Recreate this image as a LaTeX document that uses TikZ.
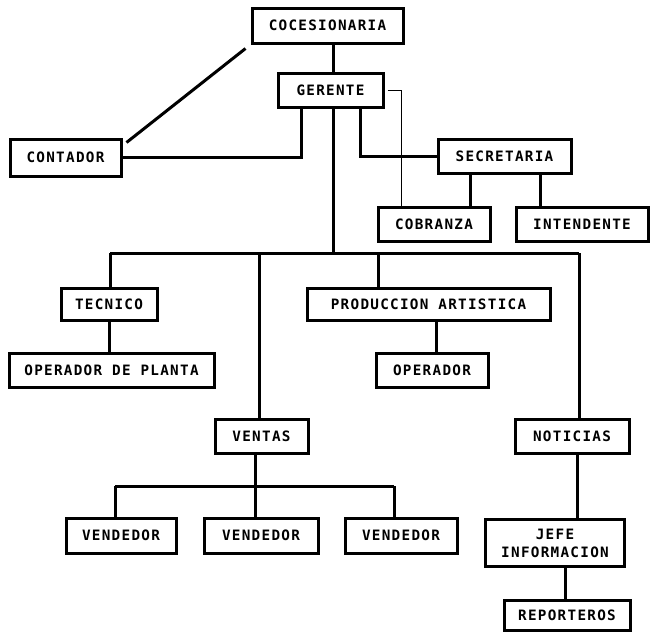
\documentclass[tikz,border=0pt]{standalone}
\usepackage{fontspec}
\newfontfamily\boxfont[LetterSpace=9,BoldFont={DejaVu Sans Mono Bold}]{DejaVu Sans Mono}
\begin{document}
\begin{tikzpicture}[x=1pt,y=-1pt,
  box/.style={draw, line width=3pt, inner sep=0pt, align=center,
    font=\boxfont\bfseries\fontsize{14.3}{18}\selectfont},
  link/.style={line width=3pt},
  thinlink/.style={line width=1pt}]
\useasboundingbox (0,0) rectangle (651,633);
% boxes
\node[box, minimum width=151pt, minimum height=35pt] (coc) at (327.5,25.5) {COCESIONARIA};
\node[box, minimum width=105pt, minimum height=34pt] (ger) at (330.5,90) {GERENTE};
\node[box, minimum width=111pt, minimum height=37pt] (cont) at (65.5,157.5) {CONTADOR};
\node[box, minimum width=133pt, minimum height=34pt] (sec) at (504.5,156) {SECRETARIA};
\node[box, minimum width=112pt, minimum height=34pt] (cob) at (434,224) {COBRANZA};
\node[box, minimum width=132pt, minimum height=34pt] (int) at (582,224) {INTENDENTE};
\node[box, minimum width=96pt, minimum height=32pt] (tec) at (109,304) {TECNICO};
\node[box, minimum width=243pt, minimum height=32pt] (pro) at (428.5,304) {PRODUCCION ARTISTICA};
\node[box, minimum width=205pt, minimum height=34pt] (opp) at (111.5,370) {OPERADOR DE PLANTA};
\node[box, minimum width=112pt, minimum height=34pt] (ope) at (432,370) {OPERADOR};
\node[box, minimum width=93pt, minimum height=34pt] (ven) at (261.5,436) {VENTAS};
\node[box, minimum width=114pt, minimum height=34pt] (not) at (572,436) {NOTICIAS};
\node[box, minimum width=110pt, minimum height=35pt] (v1) at (121,535.5) {VENDEDOR};
\node[box, minimum width=114pt, minimum height=35pt] (v2) at (261,535.5) {VENDEDOR};
\node[box, minimum width=112pt, minimum height=35pt] (v3) at (401,535.5) {VENDEDOR};
\node[box, minimum width=139pt, minimum height=47pt] (jefe) at (555,543) {JEFE\\INFORMACION};
\node[box, minimum width=126pt, minimum height=30pt] (rep) at (567,615) {REPORTEROS};
% helper coordinates
\coordinate (m) at (333,0);
\coordinate (gl) at (301,0);
\coordinate (gr) at (360,0);
\coordinate (tx) at (401,0);
\coordinate (s1) at (470,0);
\coordinate (s2) at (540,0);
\coordinate (busL) at (110,253);
\coordinate (busR) at (579,253);
\coordinate (b2) at (259,253);
\coordinate (b3) at (378,253);
\coordinate (p) at (436,0);
\coordinate (vx) at (255,0);
\coordinate (vbL) at (115,486);
\coordinate (vbR) at (394,486);
\coordinate (nx) at (577,0);
\coordinate (jx) at (565,0);
% connectors
\draw[link] (coc.south -| m) -- (ger.north -| m);
\draw[link] (ger.south -| m) -- (m |- busL);
\draw[link] ([shift={(-5,4)}]coc.south west) -- ([shift={(4,5)}]cont.north east);
\draw[link] (ger.south -| gl) |- (cont.east);
\draw[link] (ger.south -| gr) |- (sec.west);
\draw[thinlink] ([xshift=3pt]ger.east) -| (cob.north -| tx);
\draw[link] (sec.south -| s1) -- (cob.north -| s1);
\draw[link] (sec.south -| s2) -- (int.north -| s2);
\draw[link] (busL) -- (busR);
\draw[link] (busL) -- (tec.north -| busL);
\draw[link] (b2) -- (ven.north -| b2);
\draw[link] (b3) -- (pro.north -| b3);
\draw[link] (busR) -- (not.north -| busR);
\draw[link] (tec.south) -- (opp.north -| tec.south);
\draw[link] (pro.south -| p) -- (ope.north -| p);
\draw[link] (ven.south -| vx) -- (vx |- vbL);
\draw[link] (vbL) -- (vbR);
\draw[link] (vbL) -- (v1.north -| vbL);
\draw[link] (vx |- vbL) -- (v2.north -| vx);
\draw[link] (vbR) -- (v3.north -| vbR);
\draw[link] (not.south -| nx) -- (jefe.north -| nx);
\draw[link] (jefe.south -| jx) -- (rep.north -| jx);
\end{tikzpicture}
\end{document}
